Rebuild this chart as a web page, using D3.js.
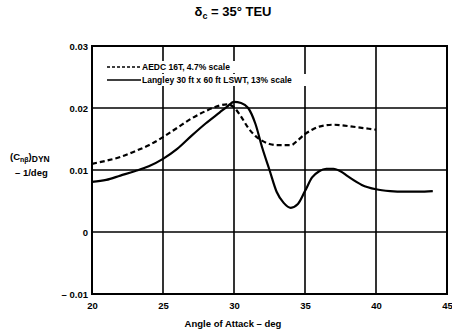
<!DOCTYPE html>
<html>
<head>
<meta charset="utf-8">
<script src="https://cdn.jsdelivr.net/npm/d3@7"></script>
<style>
body { margin: 0; background: #fff; }
text { font-family: "Liberation Sans", Arial, sans-serif; font-weight: bold; fill: #000; }
</style>
</head>
<body>
<div id="chart"></div>
<script>
// data
var aedcAlpha = [20, 21, 22, 23, 24, 25, 26, 27, 28, 29, 29.5, 30, 30.5, 31, 31.5, 32, 32.5, 33, 34, 34.5, 35, 35.5, 36, 37, 38, 39, 40];
var aedcCn = [0.0110, 0.0115, 0.0121, 0.0130, 0.0140, 0.0153, 0.0168, 0.0183, 0.0195, 0.0204, 0.0206, 0.0201, 0.0186, 0.0168, 0.0155, 0.0147, 0.0142, 0.0140, 0.0140, 0.0148, 0.0158, 0.0165, 0.0170, 0.0173, 0.0171, 0.0168, 0.0165];

var langAlpha = [20, 21, 22, 23, 24, 25, 26, 27, 28, 29, 29.5, 30, 30.5, 31, 31.5, 32, 32.5, 33, 33.5, 34, 34.5, 35, 35.5, 36, 36.5, 37, 37.5, 38, 39, 40, 41, 42, 43, 44];
var langCn = [0.0081, 0.0084, 0.0091, 0.0098, 0.0106, 0.0118, 0.0134, 0.0155, 0.0175, 0.0193, 0.0202, 0.0210, 0.0208, 0.0200, 0.0175, 0.0135, 0.0100, 0.0065, 0.0047, 0.0039, 0.0045, 0.0066, 0.0088, 0.0098, 0.0102, 0.0102, 0.0098, 0.0090, 0.0076, 0.0069, 0.0066, 0.0065, 0.0065, 0.0066];

var xTicks = [20, 25, 30, 35, 40, 45];
var yTicks = [-0.01, 0, 0.01, 0.02, 0.03];
var yTickLabels = ["\u2013 0.01", "0", "0.01", "0.02", "0.03"];
var legendNames = ["AEDC 16T, 4.7% scale", "Langley 30 ft x 60 ft LSWT, 13% scale"];

var svgWidth = 452;
var svgHeight = 333;
var margin = { top: 46, right: 5, bottom: 39, left: 92 };
var width = svgWidth - margin.left - margin.right;
var height = svgHeight - margin.top - margin.bottom;

var svg = d3.select("#chart").append("svg")
  .attr("width", svgWidth)
  .attr("height", svgHeight);

var g = svg.append("g")
  .attr("transform", `translate(${margin.left}, ${margin.top})`);

var xScale = d3.scaleLinear().domain([20, 45]).range([0, width]);
var yScale = d3.scaleLinear().domain([-0.01, 0.03]).range([height, 0]);

// grid lines
g.selectAll(".vgrid")
  .data(xTicks.slice(1, -1))
  .enter().append("line")
  .attr("x1", d => xScale(d)).attr("x2", d => xScale(d))
  .attr("y1", 0).attr("y2", height)
  .attr("stroke", "#000").attr("stroke-width", 1.6);

g.selectAll(".hgrid")
  .data(yTicks.slice(1, -1))
  .enter().append("line")
  .attr("x1", 0).attr("x2", width)
  .attr("y1", d => yScale(d)).attr("y2", d => yScale(d))
  .attr("stroke", "#000").attr("stroke-width", 1.6);

// frame
g.append("rect")
  .attr("x", 0).attr("y", 0)
  .attr("width", width).attr("height", height)
  .attr("fill", "none").attr("stroke", "#000").attr("stroke-width", 2);

// axes (labels only)
var bottomAxis = d3.axisBottom(xScale).tickValues(xTicks).tickSize(0).tickPadding(8);
var leftAxis = d3.axisLeft(yScale).tickValues(yTicks).tickSize(0).tickPadding(4)
  .tickFormat((d, i) => yTickLabels[i]);

var xa = g.append("g").attr("transform", `translate(0, ${height})`).call(bottomAxis);
var ya = g.append("g").call(leftAxis);
[xa, ya].forEach(function(a) {
  a.select(".domain").remove();
  a.selectAll("text").attr("font-size", 9.5).attr("font-family", "Liberation Sans, Arial, sans-serif").attr("font-weight", "bold");
});

// curves
var line = d3.line()
  .x(d => xScale(d[0]))
  .y(d => yScale(d[1]))
  .curve(d3.curveMonotoneX);

g.append("path")
  .datum(aedcAlpha.map((a, i) => [a, aedcCn[i]]))
  .attr("d", line)
  .attr("fill", "none").attr("stroke", "#000")
  .attr("stroke-width", 2.2).attr("stroke-dasharray", "5,3");

g.append("path")
  .datum(langAlpha.map((a, i) => [a, langCn[i]]))
  .attr("d", line)
  .attr("fill", "none").attr("stroke", "#000")
  .attr("stroke-width", 2.2);

// legend
var legend = g.selectAll(".legend")
  .data(legendNames)
  .enter().append("g")
  .attr("transform", (d, i) => `translate(15, ${21 + i * 13})`);

legend.append("rect")
  .attr("x", -2).attr("y", -6).attr("height", 12)
  .attr("width", (d, i) => i == 0 ? 140 : 205)
  .attr("fill", "#fff");

legend.append("line")
  .attr("x1", 0).attr("x2", 34).attr("y1", 0).attr("y2", 0)
  .attr("stroke", "#000").attr("stroke-width", 1.5)
  .attr("stroke-dasharray", (d, i) => i == 0 ? "3,2" : null);

legend.append("text")
  .attr("x", 35).attr("y", 3)
  .attr("font-size", 8.5)
  .text(d => d);

// title
svg.append("text")
  .attr("x", 233).attr("y", 16)
  .attr("text-anchor", "middle")
  .attr("font-size", 13)
  .html("\u03b4<tspan font-size='9' dy='3'>c</tspan><tspan dy='-3'> = 35\u00b0 TEU</tspan>");

// axis titles
svg.append("text")
  .attr("x", 233).attr("y", 327)
  .attr("text-anchor", "middle")
  .attr("font-size", 9.5)
  .text("Angle of Attack \u2013 deg");

svg.append("text")
  .attr("x", 10).attr("y", 160)
  .attr("font-size", 9.5)
  .html("(C<tspan font-size='7' dy='2'>n\u03b2</tspan><tspan dy='-2'>)</tspan><tspan font-size='8.5' dy='2'>DYN</tspan>");

svg.append("text")
  .attr("x", 15).attr("y", 176)
  .attr("font-size", 9.5)
  .text("\u2013 1/deg");
</script>
</body>
</html>
